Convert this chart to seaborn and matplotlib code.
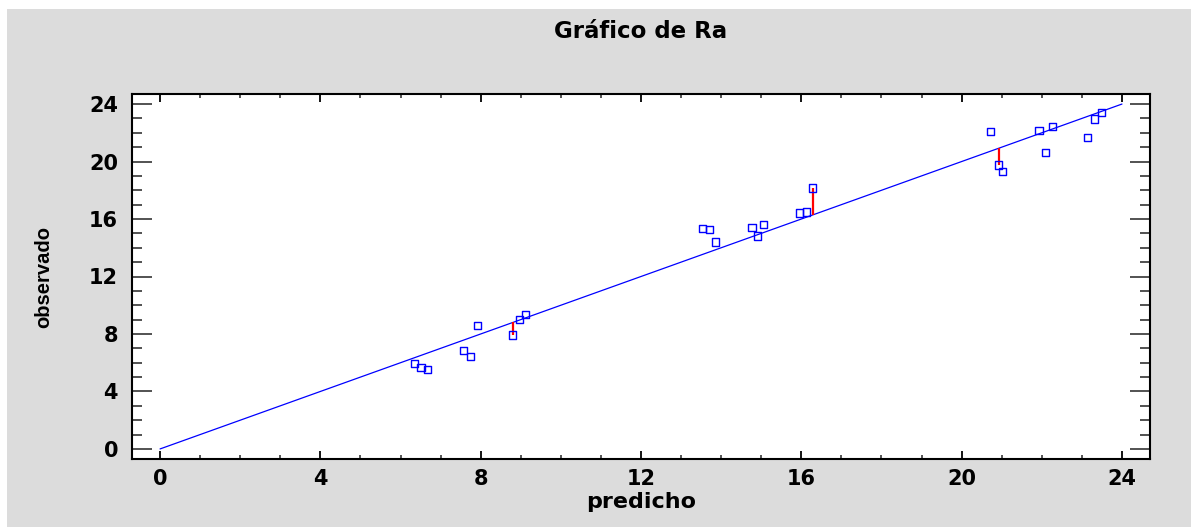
import numpy as np
import pandas as pd
import matplotlib
matplotlib.use('Agg')
import matplotlib.pyplot as plt
from matplotlib.patches import Rectangle
from matplotlib.ticker import MultipleLocator
import seaborn as sns

# Valores (predicho vs observado)
predicho = [6.34, 6.51, 6.67, 7.57, 7.74, 7.91, 8.80, 8.96, 9.12,
            13.54, 13.71, 13.87, 14.77, 14.90, 15.06, 15.95, 16.12, 16.29,
            20.72, 20.93, 21.03, 21.93, 22.10, 22.26, 23.15, 23.32, 23.50]
observado = [5.96, 5.66, 5.50, 6.87, 6.42, 8.61, 7.93, 9.00, 9.34,
             15.35, 15.28, 14.40, 15.44, 14.82, 15.60, 16.42, 16.49, 18.16,
             22.10, 19.76, 19.32, 22.17, 20.66, 22.47, 21.66, 22.96, 23.44]
# puntos con residuo marcado en rojo
residuo_idx = [6, 17, 19]
linea_x = [0, 24]
ticks = [0, 4, 8, 12, 16, 20, 24]

df = pd.DataFrame({'predicho': predicho, 'observado': observado})
df_linea = pd.DataFrame({'x': linea_x, 'y': linea_x})

sns.set_style('white')
plt.rcParams['font.family'] = ['DejaVu Sans']
plt.rcParams['text.color'] = 'black'
plt.rcParams['axes.labelcolor'] = 'black'

fig = plt.figure(figsize=(11.91, 5.27), dpi=100)
fig.patch.set_facecolor('white')
# fondo gris del panel
fig.patches.append(Rectangle((7 / 1191, 0), 1, 1 - 9 / 527, transform=fig.transFigure,
                             facecolor='#dcdcdc', edgecolor='none', zorder=-5))

ax = fig.add_axes([132 / 1191, 1 - 459 / 527, (1150 - 132) / 1191, (459 - 94) / 527])
ax.set_facecolor('white')
ax.set_zorder(1)

# linea y = x
sns.lineplot(data=df_linea, x='x', y='y', color='blue', linewidth=0.9, ax=ax)

# residuos en rojo
for i in residuo_idx:
    ax.vlines(predicho[i], predicho[i], observado[i], color='red', linewidth=1.6, zorder=3)

# puntos
sns.scatterplot(data=df, x='predicho', y='observado', marker='s', s=26,
                facecolor='none', edgecolor='blue', linewidth=1.0, ax=ax, zorder=4)

ax.set_xlim(-0.7, 24.7)
ax.set_ylim(-0.7, 24.7)
ax.set_xticks(ticks)
ax.set_yticks(ticks)
ax.xaxis.set_minor_locator(MultipleLocator(1))
ax.yaxis.set_minor_locator(MultipleLocator(1))

for s in ax.spines.values():
    s.set_color('black')
    s.set_linewidth(1.5)

ax.tick_params(axis='x', which='major', direction='in', length=5.5, width=1.3,
               top=True, bottom=True, pad=7, labelsize=15, colors='black')
ax.tick_params(axis='x', which='minor', direction='in', length=2.8, width=1.1,
               top=True, bottom=True)
ax.tick_params(axis='y', which='major', direction='in', length=14.5, width=1.3,
               left=True, right=True, pad=10, labelsize=15, color='#444444',
               labelcolor='black')
ax.tick_params(axis='y', which='minor', direction='in', length=7.5, width=1.1,
               left=True, right=True, color='#222222')
for lab in ax.get_xticklabels() + ax.get_yticklabels():
    lab.set_fontweight('bold')

ax.set_xlabel('predicho', fontsize=16, fontweight='bold', labelpad=2)
ax.set_ylabel('observado', fontsize=14.5, fontweight='bold', labelpad=26,
              fontfamily='Liberation Sans')

fig.text(641 / 1191, 1 - 32 / 527, 'Gráfico de Ra', ha='center', va='center',
         fontsize=16.5, fontweight='bold')

fig.savefig('out.png', dpi=100)
